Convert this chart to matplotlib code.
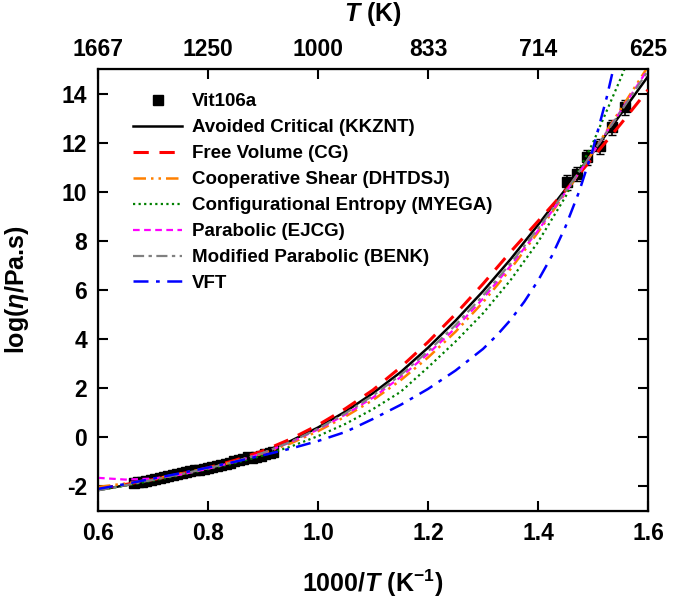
import matplotlib
matplotlib.use('Agg')
import matplotlib.pyplot as plt

plt.rcParams['font.family'] = 'Liberation Sans'
plt.rcParams['font.weight'] = 'bold'
plt.rcParams['axes.labelweight'] = 'bold'
plt.rcParams['axes.unicode_minus'] = False
plt.rcParams['mathtext.fontset'] = 'custom'
plt.rcParams['mathtext.rm'] = 'Liberation Sans:bold'
plt.rcParams['mathtext.it'] = 'Liberation Sans:bold:italic'
plt.rcParams['mathtext.bf'] = 'Liberation Sans:bold'

# measured Vit106a data, 1000/T vs log(viscosity)
hi_x = [0.665, 0.672, 0.680, 0.688, 0.696, 0.704, 0.712, 0.720, 0.728, 0.736, 0.744,
        0.752, 0.760, 0.768, 0.776, 0.784, 0.792, 0.800, 0.808, 0.816, 0.824, 0.832,
        0.840, 0.848, 0.856, 0.864, 0.872, 0.880, 0.888, 0.896, 0.904, 0.912, 0.918]
hi_y = [-1.86, -1.83, -1.80, -1.76, -1.72, -1.69, -1.65, -1.61, -1.58, -1.54, -1.50,
        -1.47, -1.43, -1.39, -1.35, -1.31, -1.27, -1.23, -1.19, -1.15, -1.11, -1.07,
        -1.03, -0.98, -0.94, -0.90, -0.80, -0.84, -0.80, -0.76, -0.66, -0.64, -0.60]
lo_x = [1.452, 1.470, 1.489, 1.513, 1.534, 1.558]
lo_y = [10.38, 10.72, 11.40, 11.85, 12.62, 13.44]
lo_err = [0.3, 0.3, 0.3, 0.3, 0.3, 0.3]

# model fits
x_fit = [0.60, 0.65, 0.70, 0.75, 0.80, 0.85, 0.90, 0.95, 1.00, 1.05, 1.10,
         1.15, 1.20, 1.25, 1.30, 1.35, 1.40, 1.45, 1.50, 1.55, 1.60]
kkznt = [-2.15, -1.95, -1.74, -1.50, -1.24, -0.95, -0.60, -0.15, 0.40, 1.05, 1.80,
         2.65, 3.65, 4.75, 5.95, 7.25, 8.65, 10.10, 11.60, 13.15, 14.70]
cg = [-2.10, -1.92, -1.72, -1.49, -1.24, -0.93, -0.55, -0.07, 0.50, 1.17, 1.93,
      2.85, 3.88, 5.02, 6.25, 7.55, 8.80, 10.05, 11.40, 12.75, 14.15]
dhtdsj = [-2.02, -1.88, -1.70, -1.48, -1.25, -0.98, -0.66, -0.25, 0.25, 0.85, 1.52,
          2.32, 3.25, 4.30, 5.50, 6.85, 8.35, 9.95, 11.62, 13.35, 15.10]
ejcg = [-1.65, -1.72, -1.68, -1.52, -1.28, -0.99, -0.64, -0.20, 0.32, 0.93, 1.62,
        2.45, 3.40, 4.45, 5.65, 6.98, 8.42, 9.98, 11.60, 13.28, 15.00]
benk = [-2.16, -1.95, -1.73, -1.50, -1.26, -0.98, -0.63, -0.19, 0.35, 0.98, 1.70,
        2.54, 3.50, 4.57, 5.77, 7.08, 8.50, 10.02, 11.62, 13.25, 14.92]
x_myega = [0.60, 0.65, 0.70, 0.75, 0.80, 0.85, 0.90, 0.95, 1.00, 1.05, 1.10,
           1.15, 1.20, 1.25, 1.30, 1.35, 1.40, 1.45, 1.50, 1.55, 1.56]
myega = [-2.15, -1.96, -1.76, -1.54, -1.30, -1.04, -0.74, -0.38, 0.05, 0.55, 1.15,
         1.85, 2.85, 3.90, 5.05, 6.40, 7.95, 9.80, 12.00, 14.60, 15.15]
x_vft = [0.60, 0.65, 0.70, 0.75, 0.80, 0.85, 0.90, 0.95, 1.00, 1.05, 1.10, 1.15,
         1.20, 1.25, 1.30, 1.325, 1.35, 1.375, 1.40, 1.425, 1.45, 1.475, 1.50,
         1.525, 1.54]
vft = [-2.10, -1.90, -1.68, -1.46, -1.23, -0.99, -0.73, -0.46, -0.15, 0.22, 0.75, 1.32,
       1.97, 2.72, 3.60, 4.15, 4.78, 5.52, 6.38, 7.38, 8.58, 10.02, 11.75,
       13.85, 15.30]

x_ticks = [0.6, 0.8, 1.0, 1.2, 1.4, 1.6]
x_labels = ['0.6', '0.8', '1.0', '1.2', '1.4', '1.6']
top_labels = ['1667', '1250', '1000', '833', '714', '625']
y_ticks = [-2, 0, 2, 4, 6, 8, 10, 12, 14]

fig = plt.figure(figsize=(6.75, 5.99), dpi=100)
ax = fig.add_axes([0.1452, 0.1469, 0.8148, 0.7379])

ax.plot(hi_x, hi_y, 's', color='black', ms=7, label='Vit106a', zorder=2)
ax.errorbar(lo_x, lo_y, yerr=lo_err, fmt='s', color='black', ms=7, capsize=3,
            elinewidth=1.2, zorder=2)

ax.plot(x_fit, kkznt, '-', color='black', lw=1.8, label='Avoided Critical (KKZNT)', zorder=3)
ax.plot(x_fit, cg, color='red', lw=2.2, dashes=(5, 3.5), label='Free Volume (CG)', zorder=3)
ax.plot(x_fit, dhtdsj, color='#FF8000', lw=1.8, dashes=(5, 2, 1, 2, 1, 2),
        label='Cooperative Shear (DHTDSJ)', zorder=3)
ax.plot(x_myega, myega, color='#008000', lw=1.6, dashes=(1, 1.5),
        label='Configurational Entropy (MYEGA)', zorder=3)
ax.plot(x_fit, ejcg, color='#FF00FF', lw=1.6, dashes=(3, 2), label='Parabolic (EJCG)', zorder=3)
ax.plot(x_fit, benk, color='#808080', lw=1.6, dashes=(5, 2, 1.5, 2),
        label='Modified Parabolic (BENK)', zorder=3)
ax.plot(x_vft, vft, color='#0000FF', lw=1.8, dashes=(6, 3, 1.5, 3), label='VFT', zorder=3)

ax.set_xlim(0.6, 1.6)
ax.set_ylim(-3, 15)
ax.set_xticks(x_ticks)
ax.set_xticklabels(x_labels)
ax.set_yticks(y_ticks)
ax.tick_params(direction='in', length=7, width=1.5, labelsize=16.5, pad=8,
               right=True, top=False)
for s in ax.spines.values():
    s.set_linewidth(1.6)

ax.set_xlabel('1000/$T$ (K$^{-1}$)', fontsize=18, labelpad=16)
ax.set_ylabel('log($\\eta$/Pa.s)', fontsize=18, labelpad=22)

ax2 = ax.twiny()
ax2.set_xlim(ax.get_xlim())
ax2.set_xticks(x_ticks)
ax2.set_xticklabels(top_labels)
ax2.tick_params(direction='in', length=7, width=1.5, labelsize=16.5, pad=6)
ax2.set_xlabel('$T$ (K)', fontsize=18, labelpad=12)

ax.legend(loc='upper left', bbox_to_anchor=(0.064, 0.945), frameon=False,
          prop={'weight': 'bold', 'size': 13.5}, handlelength=2.6, handletextpad=0.55,
          labelspacing=0.47, borderpad=0, borderaxespad=0, numpoints=1)

fig.savefig('out.png', dpi=100)
